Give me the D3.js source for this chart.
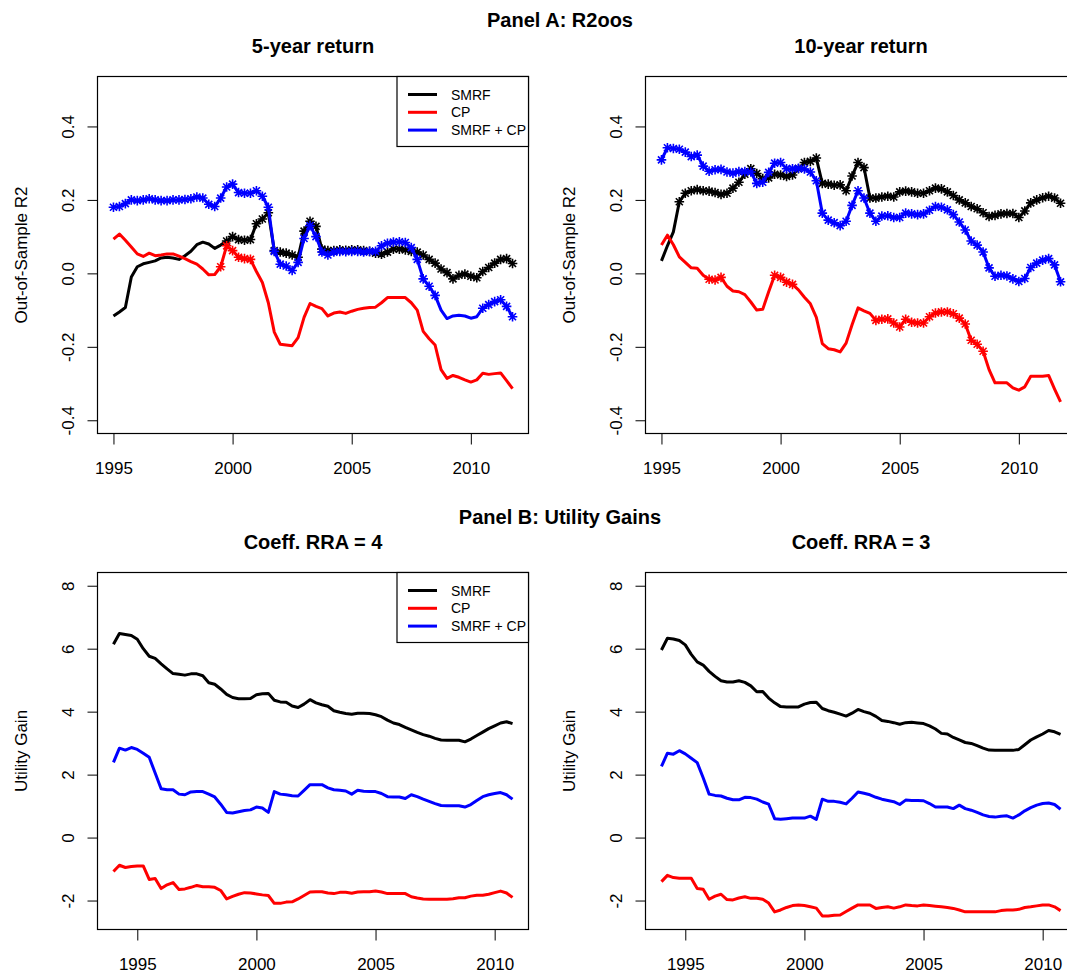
<!DOCTYPE html>
<html>
<head>
<meta charset="utf-8">
<script src="https://cdn.jsdelivr.net/npm/d3@7"></script>
<style>
  body { margin: 0; background: #fff; }
  text { font-family: "Liberation Sans", Arial, sans-serif; fill: #000; }
</style>
</head>
<body>
<div class="canvas"></div>
<script>
const width = 1067;
const height = 977;

// quarterly observation dates
const datesA = d3.range(68).map((k) => 1995 + k / 4);
const datesB = d3.range(68).map((k) => 1994 + k / 4);

const seriesNames = ['SMRF', 'CP', 'SMRF + CP'];
const seriesColors = ['#000000', '#ff0000', '#0000ff'];
const yearTicks = [1995, 2000, 2005, 2010];
const r2Ticks = [-0.4, -0.2, 0, 0.2, 0.4];
const ugTicks = [-2, 0, 2, 4, 6, 8];

// Panel A, 5-year return
const r2_5y_smrf = [-0.116, -0.105, -0.093, -0.010, 0.018, 0.026, 0.030, 0.034, 0.042, 0.044,
  0.042, 0.038, 0.048, 0.060, 0.078, 0.085, 0.080, 0.068, 0.077, 0.088,
  0.100, 0.092, 0.090, 0.092, 0.135, 0.148, 0.165, 0.062, 0.058, 0.055,
  0.050, 0.044, 0.115, 0.142, 0.128, 0.066, 0.062, 0.062, 0.064, 0.063,
  0.064, 0.064, 0.062, 0.060, 0.055, 0.052, 0.058, 0.066, 0.066, 0.064,
  0.060, 0.058, 0.050, 0.038, 0.028, 0.012, 0.002, -0.015, -0.005, -0.002,
  -0.008, -0.012, 0.005, 0.016, 0.028, 0.038, 0.040, 0.027];
const r2_5y_cp = [0.093, 0.107, 0.090, 0.072, 0.053, 0.046, 0.055, 0.048, 0.050, 0.053,
  0.053, 0.047, 0.040, 0.032, 0.025, 0.012, -0.004, -0.003, 0.018, 0.075,
  0.062, 0.044, 0.040, 0.038, 0.005, -0.025, -0.080, -0.160, -0.193, -0.195,
  -0.197, -0.175, -0.120, -0.082, -0.090, -0.096, -0.116, -0.108, -0.105, -0.109,
  -0.103, -0.098, -0.095, -0.093, -0.092, -0.080, -0.066, -0.066, -0.066, -0.066,
  -0.080, -0.100, -0.158, -0.178, -0.195, -0.262, -0.286, -0.278, -0.283, -0.290,
  -0.296, -0.290, -0.272, -0.275, -0.273, -0.271, -0.292, -0.314];
const r2_5y_both = [0.180, 0.182, 0.190, 0.200, 0.198, 0.200, 0.203, 0.200, 0.198, 0.198,
  0.200, 0.200, 0.201, 0.203, 0.208, 0.205, 0.188, 0.182, 0.205, 0.235,
  0.243, 0.220, 0.218, 0.218, 0.225, 0.210, 0.180, 0.060, 0.025, 0.020,
  0.008, 0.030, 0.095, 0.130, 0.100, 0.058, 0.050, 0.058, 0.060, 0.059,
  0.060, 0.060, 0.058, 0.060, 0.060, 0.075, 0.082, 0.085, 0.086, 0.084,
  0.070, 0.038, -0.015, -0.035, -0.060, -0.100, -0.123, -0.116, -0.114, -0.116,
  -0.122, -0.118, -0.095, -0.085, -0.077, -0.072, -0.090, -0.118];
// index ranges marked with asterisks
const sig_5y_smrf = [[19, 67]];
const sig_5y_cp = [[18, 23]];
const sig_5y_both = [[0, 54], [62, 67]];

// Panel A, 10-year return
const r2_10y_smrf = [0.034, 0.075, 0.113, 0.195, 0.218, 0.225, 0.228, 0.225, 0.224, 0.220,
  0.215, 0.218, 0.232, 0.248, 0.270, 0.285, 0.272, 0.258, 0.260, 0.270,
  0.268, 0.264, 0.268, 0.285, 0.302, 0.305, 0.314, 0.245, 0.243, 0.240,
  0.241, 0.225, 0.265, 0.302, 0.288, 0.205, 0.205, 0.208, 0.210, 0.208,
  0.222, 0.224, 0.222, 0.218, 0.218, 0.225, 0.232, 0.230, 0.222, 0.212,
  0.200, 0.192, 0.182, 0.176, 0.165, 0.155, 0.158, 0.162, 0.163, 0.163,
  0.152, 0.170, 0.192, 0.200, 0.206, 0.210, 0.205, 0.191];
const r2_10y_cp = [0.077, 0.104, 0.078, 0.045, 0.030, 0.015, 0.014, -0.005, -0.016, -0.018,
  -0.011, -0.035, -0.048, -0.050, -0.058, -0.078, -0.100, -0.098, -0.050, -0.005,
  -0.011, -0.024, -0.030, -0.045, -0.065, -0.083, -0.120, -0.191, -0.205, -0.208,
  -0.214, -0.190, -0.140, -0.094, -0.102, -0.109, -0.128, -0.125, -0.124, -0.135,
  -0.146, -0.125, -0.133, -0.135, -0.135, -0.118, -0.108, -0.105, -0.105, -0.110,
  -0.122, -0.138, -0.182, -0.193, -0.212, -0.262, -0.298, -0.298, -0.298, -0.312,
  -0.318, -0.309, -0.280, -0.280, -0.280, -0.278, -0.315, -0.350];
const r2_10y_both = [0.309, 0.342, 0.340, 0.338, 0.330, 0.318, 0.322, 0.292, 0.278, 0.282,
  0.283, 0.276, 0.273, 0.277, 0.277, 0.276, 0.245, 0.248, 0.275, 0.300,
  0.302, 0.285, 0.285, 0.286, 0.284, 0.276, 0.252, 0.164, 0.145, 0.138,
  0.130, 0.142, 0.185, 0.225, 0.205, 0.164, 0.142, 0.156, 0.157, 0.152,
  0.152, 0.164, 0.162, 0.160, 0.162, 0.172, 0.182, 0.180, 0.173, 0.160,
  0.140, 0.118, 0.088, 0.077, 0.058, 0.015, -0.008, -0.005, -0.007, -0.015,
  -0.022, -0.014, 0.016, 0.028, 0.036, 0.040, 0.023, -0.023];
const sig_10y_smrf = [[3, 67]];
const sig_10y_cp = [[8, 10], [19, 22], [36, 54]];
const sig_10y_both = [[0, 67]];

// Panel B, RRA = 4
const ug4_smrf = [6.14, 6.48, 6.45, 6.42, 6.30, 6.00, 5.76, 5.69, 5.52, 5.36,
  5.21, 5.19, 5.16, 5.20, 5.20, 5.14, 4.92, 4.87, 4.72, 4.55,
  4.45, 4.41, 4.41, 4.42, 4.54, 4.57, 4.58, 4.36, 4.31, 4.30,
  4.18, 4.13, 4.24, 4.38, 4.28, 4.22, 4.17, 4.03, 3.98, 3.94,
  3.92, 3.95, 3.95, 3.94, 3.90, 3.84, 3.73, 3.64, 3.59, 3.50,
  3.42, 3.34, 3.27, 3.22, 3.15, 3.10, 3.09, 3.09, 3.09, 3.04,
  3.13, 3.24, 3.35, 3.46, 3.55, 3.64, 3.68, 3.62];
const ug4_cp = [-1.08, -0.88, -0.95, -0.92, -0.90, -0.90, -1.33, -1.30, -1.62, -1.50,
  -1.43, -1.65, -1.63, -1.58, -1.52, -1.56, -1.56, -1.58, -1.68, -1.95,
  -1.87, -1.80, -1.75, -1.76, -1.79, -1.82, -1.84, -2.09, -2.09, -2.05,
  -2.04, -1.95, -1.84, -1.73, -1.72, -1.72, -1.76, -1.78, -1.74, -1.74,
  -1.77, -1.73, -1.72, -1.72, -1.70, -1.73, -1.78, -1.78, -1.78, -1.78,
  -1.88, -1.92, -1.95, -1.96, -1.96, -1.96, -1.96, -1.94, -1.91, -1.91,
  -1.86, -1.83, -1.83, -1.80, -1.75, -1.70, -1.76, -1.90];
const ug4_both = [2.39, 2.84, 2.78, 2.86, 2.80, 2.68, 2.55, 2.05, 1.55, 1.52,
  1.52, 1.38, 1.36, 1.45, 1.46, 1.46, 1.38, 1.29, 1.06, 0.80,
  0.78, 0.82, 0.86, 0.88, 0.97, 0.94, 0.80, 1.46, 1.38, 1.36,
  1.33, 1.32, 1.50, 1.68, 1.68, 1.68, 1.58, 1.52, 1.50, 1.48,
  1.38, 1.50, 1.47, 1.46, 1.46, 1.40, 1.30, 1.29, 1.29, 1.24,
  1.36, 1.30, 1.22, 1.15, 1.08, 1.02, 1.01, 1.01, 1.01, 0.97,
  1.05, 1.18, 1.30, 1.36, 1.40, 1.43, 1.36, 1.22];

// Panel B, RRA = 3
const ug3_smrf = [5.96, 6.33, 6.31, 6.26, 6.12, 5.82, 5.58, 5.48, 5.28, 5.12,
  4.98, 4.94, 4.94, 4.98, 4.93, 4.82, 4.63, 4.64, 4.43, 4.28,
  4.16, 4.15, 4.15, 4.15, 4.24, 4.29, 4.30, 4.10, 4.03, 3.98,
  3.92, 3.86, 3.95, 4.07, 4.00, 3.95, 3.85, 3.72, 3.69, 3.65,
  3.60, 3.65, 3.66, 3.64, 3.62, 3.55, 3.45, 3.31, 3.29, 3.18,
  3.10, 3.02, 2.99, 2.92, 2.84, 2.78, 2.77, 2.77, 2.77, 2.77,
  2.80, 2.95, 3.10, 3.20, 3.29, 3.40, 3.36, 3.28];
const ug3_cp = [-1.40, -1.20, -1.27, -1.29, -1.29, -1.29, -1.62, -1.64, -1.96, -1.86,
  -1.80, -1.97, -1.98, -1.92, -1.88, -1.93, -1.93, -1.96, -2.08, -2.36,
  -2.30, -2.22, -2.16, -2.14, -2.16, -2.20, -2.24, -2.49, -2.49, -2.47,
  -2.46, -2.35, -2.24, -2.14, -2.14, -2.14, -2.25, -2.22, -2.20, -2.24,
  -2.20, -2.14, -2.16, -2.17, -2.14, -2.16, -2.18, -2.20, -2.22, -2.25,
  -2.30, -2.36, -2.36, -2.36, -2.36, -2.36, -2.36, -2.32, -2.30, -2.30,
  -2.28, -2.22, -2.20, -2.17, -2.14, -2.14, -2.20, -2.32];
const ug3_both = [2.26, 2.68, 2.65, 2.76, 2.66, 2.52, 2.38, 1.90, 1.38, 1.34,
  1.32, 1.25, 1.20, 1.20, 1.28, 1.27, 1.22, 1.13, 1.06, 0.60,
  0.58, 0.60, 0.62, 0.62, 0.62, 0.68, 0.58, 1.22, 1.15, 1.15,
  1.12, 1.07, 1.25, 1.45, 1.41, 1.36, 1.28, 1.22, 1.18, 1.14,
  1.05, 1.19, 1.18, 1.18, 1.17, 1.08, 0.97, 0.97, 0.97, 0.92,
  1.03, 0.92, 0.87, 0.80, 0.72, 0.67, 0.65, 0.68, 0.69, 0.62,
  0.72, 0.85, 0.95, 1.03, 1.08, 1.10, 1.05, 0.90];

const canvas = d3
  .select('.canvas')
  .append('svg')
  .attr('width', width)
  .attr('height', height);

const plotWidth = 431;
const colLeft = [97.5, 645.5];
const rowTop = [76.5, 572.5];
const rowBottom = [433.5, 929.5];

// plain hyphen for negative numbers, as in R
const fmt1 = (d) => d3.format('.1f')(d).replace('\u2212', '-');
const fmt0 = (d) => d3.format('d')(d).replace('\u2212', '-');

const panels = [
  { col: 0, row: 0, title: '5-year return', ylab: 'Out-of-Sample R2', dates: datesA,
    xDomain: [1994.33, 2012.42], yDomain: [-0.436, 0.536], yTicks: r2Ticks, yFmt: fmt1,
    series: [r2_5y_smrf, r2_5y_cp, r2_5y_both], sig: [sig_5y_smrf, sig_5y_cp, sig_5y_both], legend: true },
  { col: 1, row: 0, title: '10-year return', ylab: 'Out-of-Sample R2', dates: datesA,
    xDomain: [1994.33, 2012.42], yDomain: [-0.436, 0.536], yTicks: r2Ticks, yFmt: fmt1,
    series: [r2_10y_smrf, r2_10y_cp, r2_10y_both], sig: [sig_10y_smrf, sig_10y_cp, sig_10y_both], legend: false },
  { col: 0, row: 1, title: 'Coeff. RRA = 4', ylab: 'Utility Gain', dates: datesB,
    xDomain: [1993.33, 2011.42], yDomain: [-2.92, 8.42], yTicks: ugTicks, yFmt: fmt0,
    series: [ug4_smrf, ug4_cp, ug4_both], sig: [[], [], []], legend: true },
  { col: 1, row: 1, title: 'Coeff. RRA = 3', ylab: 'Utility Gain', dates: datesB,
    xDomain: [1993.33, 2011.42], yDomain: [-2.92, 8.42], yTicks: ugTicks, yFmt: fmt0,
    series: [ug3_smrf, ug3_cp, ug3_both], sig: [[], [], []], legend: false },
];

// outer titles
canvas.append('text').attr('x', 560).attr('y', 27).attr('text-anchor', 'middle')
  .style('font-size', '20px').style('font-weight', 'bold').text('Panel A: R2oos');
canvas.append('text').attr('x', 560).attr('y', 524).attr('text-anchor', 'middle')
  .style('font-size', '20px').style('font-weight', 'bold').text('Panel B: Utility Gains');

// R-style asterisk (pch = 8)
function asterisk(cx, cy) {
  const a = 4.8, b = 3.5;
  return `M${cx - a},${cy}H${cx + a}M${cx},${cy - a}V${cy + a}` +
    `M${cx - b},${cy - b}L${cx + b},${cy + b}M${cx - b},${cy + b}L${cx + b},${cy - b}`;
}

panels.forEach(drawPanel);

function drawPanel(p) {
  const left = colLeft[p.col];
  const top = rowTop[p.row];
  const bottom = rowBottom[p.row];
  const xScale = d3.scaleLinear().domain(p.xDomain).range([left, left + plotWidth]);
  const yScale = d3.scaleLinear().domain(p.yDomain).range([bottom, top]);
  const g = canvas.append('g');

  // axes
  const xAxis = d3.axisBottom(xScale).tickValues(yearTicks).tickSize(11).tickPadding(17)
    .tickFormat(d3.format('d'));
  const xg = g.append('g').attr('transform', `translate(0,${bottom})`).call(xAxis);
  xg.select('.domain').remove();

  const yAxis = d3.axisLeft(yScale).tickValues(p.yTicks).tickSize(10).tickFormat(p.yFmt);
  const yg = g.append('g').attr('transform', `translate(${left},0)`).call(yAxis);
  yg.select('.domain').remove();
  yg.selectAll('text')
    .attr('x', null).attr('dy', null)
    .attr('text-anchor', 'middle')
    .attr('transform', 'translate(-24,0) rotate(-90)');

  g.selectAll('.tick line').attr('stroke', '#000').attr('stroke-width', 1);
  g.selectAll('.tick text').style('font-size', '17px').style('font-family', '"Liberation Sans", Arial, sans-serif');

  // box
  g.append('rect')
    .attr('x', left).attr('y', top)
    .attr('width', plotWidth).attr('height', bottom - top)
    .attr('fill', 'none').attr('stroke', '#000').attr('stroke-width', 1.2);

  // titles
  g.append('text').attr('x', left + plotWidth / 2).attr('y', top - 24)
    .attr('text-anchor', 'middle').style('font-size', '20px').style('font-weight', 'bold')
    .text(p.title);
  g.append('text')
    .attr('transform', `translate(${left - 71},${(top + bottom) / 2}) rotate(-90)`)
    .attr('text-anchor', 'middle').style('font-size', '17px')
    .text(p.ylab);

  // series
  const line = d3.line().x((d) => xScale(d[0])).y((d) => yScale(d[1]));
  p.series.forEach((vals, i) => {
    const pts = vals.map((v, k) => [p.dates[k], v]);
    g.append('path')
      .datum(pts)
      .attr('d', line)
      .attr('fill', 'none')
      .attr('stroke', seriesColors[i])
      .attr('stroke-width', 3)
      .attr('stroke-linejoin', 'round');

    const marked = pts.filter((d, k) => p.sig[i].some((r) => k >= r[0] && k <= r[1]));
    g.selectAll(null)
      .data(marked)
      .enter()
      .append('path')
      .attr('d', (d) => asterisk(xScale(d[0]), yScale(d[1])))
      .attr('fill', 'none')
      .attr('stroke', seriesColors[i])
      .attr('stroke-width', 1.6);
  });

  // legend
  if (p.legend) {
    const lx = left + 299.5;
    const lg = g.append('g');
    lg.append('rect')
      .attr('x', lx).attr('y', top)
      .attr('width', left + plotWidth - lx).attr('height', 70)
      .attr('fill', '#fff').attr('stroke', '#000').attr('stroke-width', 1.2);
    seriesNames.forEach((name, i) => {
      const ry = top + 18 + i * 17.8;
      lg.append('line')
        .attr('x1', lx + 11).attr('x2', lx + 40)
        .attr('y1', ry).attr('y2', ry)
        .attr('stroke', seriesColors[i]).attr('stroke-width', 3);
      lg.append('text')
        .attr('x', lx + 54).attr('y', ry + 5)
        .style('font-size', '14px')
        .text(name);
    });
  }
}
</script>
</body>
</html>
